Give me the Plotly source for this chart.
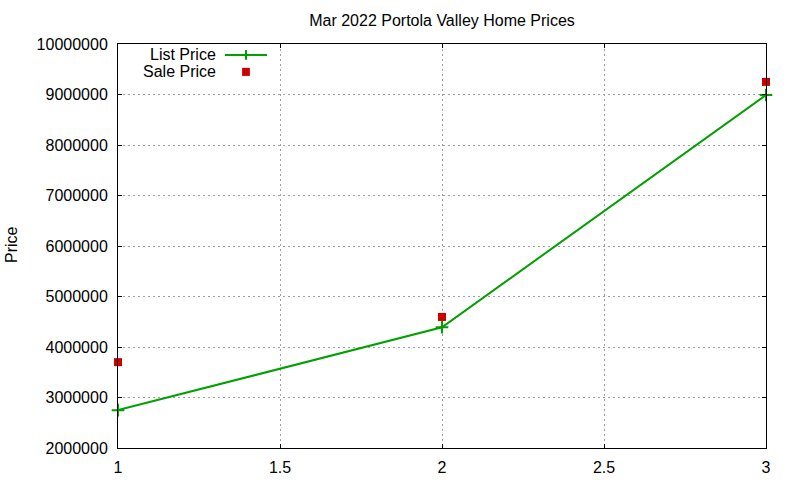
import plotly.graph_objects as go

# data
bedrooms = [1, 2, 3]
list_price = [2750000, 4390000, 8990000]
sale_price = [3700000, 4595000, 9250000]

x_ticks = [1, 1.5, 2, 2.5, 3]
y_ticks = [2000000, 3000000, 4000000, 5000000, 6000000, 7000000, 8000000, 9000000, 10000000]

GREEN = '#00a000'
RED = '#cc0000'
FONT = 'Liberation Sans, Arial, sans-serif'

fig = go.Figure()

fig.add_trace(go.Scatter(
    x=bedrooms, y=list_price, name='List Price',
    mode='lines+markers',
    line=dict(color=GREEN, width=2),
    marker=dict(symbol='cross-thin', size=9, line=dict(color=GREEN, width=2)),
    cliponaxis=False, showlegend=False))

fig.add_trace(go.Scatter(
    x=bedrooms, y=sale_price, name='Sale Price',
    mode='markers',
    marker=dict(symbol='square', size=8, color=RED),
    cliponaxis=False, showlegend=False))

axis_common = dict(
    showline=True, mirror='ticks', linecolor='black', linewidth=1,
    ticks='inside', ticklen=4, tickcolor='black',
    showgrid=True, gridcolor='#a0a0a0', griddash='2px,3px', gridwidth=1,
    zeroline=False, automargin=False,
    tickfont=dict(family=FONT, size=16, color='black'),
)

fig.update_layout(
    width=800, height=480,
    margin=dict(l=118, r=34, t=44, b=32),
    paper_bgcolor='white', plot_bgcolor='white',
    font=dict(family=FONT, color='black'),
    title=dict(text='Mar 2022 Portola Valley Home Prices', x=0.5525, xanchor='center',
               y=0.958, yanchor='middle', font=dict(size=16, color='black')),
    xaxis=dict(range=[1, 3], tickvals=x_ticks, ticktext=[str(v) for v in x_ticks],
               ticklabelstandoff=5, **axis_common),
    yaxis=dict(range=[2000000, 10000000], tickvals=y_ticks, tickformat='d',
               ticklabelstandoff=6, **axis_common),
)

# y axis label
fig.add_annotation(xref='paper', yref='paper', x=-0.1636, y=0.505, text='Price', textangle=-90,
                   showarrow=False, xanchor='center', yanchor='middle', font=dict(size=16))

# gnuplot style key: text right-aligned, sample to the right
fig.add_annotation(xref='paper', yref='paper', x=0.155, y=0.973, text='List Price',
                   showarrow=False, xanchor='right', yanchor='middle', font=dict(size=16))
fig.add_annotation(xref='paper', yref='paper', x=0.155, y=0.931, text='Sale Price',
                   showarrow=False, xanchor='right', yanchor='middle', font=dict(size=16))
fig.add_shape(type='line', xref='paper', yref='paper', x0=0.165, x1=0.230, y0=0.973, y1=0.973,
              line=dict(color=GREEN, width=2))
fig.add_shape(type='line', xref='paper', yref='paper', x0=0.1975, x1=0.1975, y0=0.961, y1=0.985,
              line=dict(color=GREEN, width=2))
fig.add_shape(type='rect', xref='paper', yref='paper', x0=0.1915, x1=0.2035, y0=0.921, y1=0.941,
              line=dict(width=0), fillcolor=RED)

fig.write_html('out.html', config={'displayModeBar': False},
               post_script="document.body.style.margin='0';")
